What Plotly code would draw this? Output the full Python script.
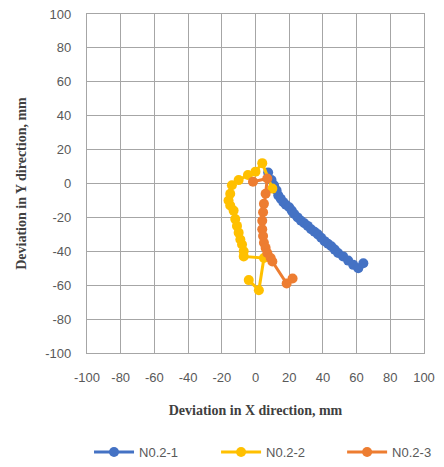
import plotly.graph_objects as go

names = ["N0.2-1", "N0.2-2", "N0.2-3"]
colors = ["#4472C4", "#FFC000", "#ED7D31"]

x1 = [7.5, 9.5, 11, 12.5, 13.5, 15, 16.5, 18, 20, 21.5, 23, 25, 27, 29, 31, 33, 35, 37, 39, 41, 43, 45, 47, 49, 52, 55, 58, 61, 64]
y1 = [6.5, 2, -1, -4, -7, -9, -11, -12.5, -14, -16, -18, -20, -22, -23.5, -25, -27, -28.5, -30, -32, -34, -35.5, -37, -39, -41, -43, -45.5, -48, -50, -47]

x2 = [10, 4, 0, -4.5, -10, -14, -15, -16, -15, -13, -12, -11, -10, -9, -8, -7, -7, 5, 2, -4]
y2 = [-3, 12, 7, 5, 2, -1, -6, -10, -13, -16, -21, -25, -29, -33, -36, -40, -43, -44, -63, -57]

x3 = [-1.5, 7, 6, 5, 4.5, 4, 4, 4.5, 5, 6, 7, 9, 10, 18.5, 22]
y3 = [1, 3, -6, -12, -17, -22, -27, -31, -35, -38, -41, -44, -46, -59, -56]

tick_vals = [-100, -80, -60, -40, -20, 0, 20, 40, 60, 80, 100]
tick_text = ["-100", "-80", "-60", "-40", "-20", "0", "20", "40", "60", "80", "100"]

xs = [x1, x2, x3]
ys = [y1, y2, y3]
legend_ids = ["legend", "legend2", "legend3"]
legend_x = [0.006, 0.383, 0.757]

fig = go.Figure()
for n, c, xv, yv, lg in zip(names, colors, xs, ys, legend_ids):
    fig.add_trace(go.Scatter(
        x=xv, y=yv, name=n, mode="lines+markers",
        line=dict(color=c, width=3),
        marker=dict(color=c, size=10),
        legend=lg,
    ))

axis_common = dict(
    range=[-100, 100], tickvals=tick_vals, ticktext=tick_text, showgrid=True,
    gridcolor="#A6A6A6", gridwidth=1.3, showline=True, linecolor="#A6A6A6",
    linewidth=1.3, mirror=True, zeroline=False, ticks="", automargin=False,
    tickfont=dict(family="Liberation Sans, Arial", size=13, color="#595959"),
)

legend_style = dict(orientation="h", xanchor="left", y=-0.292, yanchor="middle",
                    font=dict(family="Liberation Sans, Arial", size=13, color="#595959"),
                    itemwidth=40)

fig.update_layout(
    width=444, height=467,
    paper_bgcolor="white", plot_bgcolor="white",
    margin=dict(l=87, r=20, t=14, b=114, autoexpand=False),
    xaxis=dict(**axis_common, ticklabelstandoff=12, title=dict(
        text="Deviation in X direction, mm", standoff=21,
        font=dict(family="Liberation Serif, DejaVu Serif", size=14, color="#404040", weight="bold"))),
    yaxis=dict(**axis_common, ticklabelstandoff=12, title=dict(
        text="Deviation in Y direction, mm", standoff=15,
        font=dict(family="Liberation Serif, DejaVu Serif", size=14, color="#404040", weight="bold"))),
    legend=dict(**legend_style, x=legend_x[0]),
    legend2=dict(**legend_style, x=legend_x[1]),
    legend3=dict(**legend_style, x=legend_x[2]),
    showlegend=True,
)

fig.write_html("out.html", config={"displayModeBar": False},
               post_script="document.body.style.margin='0';document.body.style.overflow='hidden';")
